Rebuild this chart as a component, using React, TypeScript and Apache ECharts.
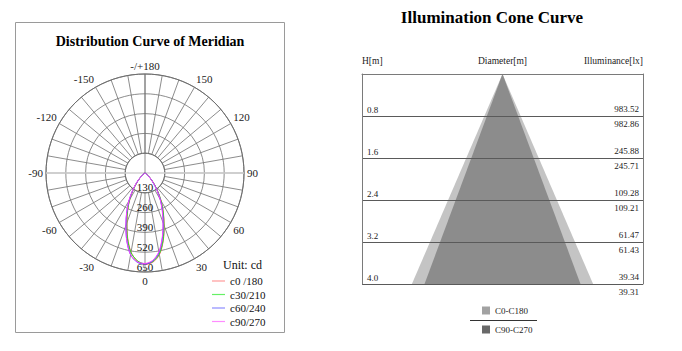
import { useEffect, useRef } from 'react';
import * as echarts from 'echarts';

const FONT = "'Liberation Serif', 'Times New Roman', serif";

// ---------- Left: polar distribution curve ----------
const gammaAngles = [0, 5, 10, 15, 20, 25, 30, 35, 40, 45, 50, 55, 60, 65, 70, 75, 80, 85, 90];
const curveNames = ['c0 /180', 'c30/210', 'c60/240', 'c90/270'];
const curveColors = ['#ff5c5c', '#22e622', '#4646ff', '#ff40ff'];
const legendColors = ['#ff9a9a', '#66f066', '#8c8cff', '#ff8cff'];
// intensity (cd) on the positive side (right) and negative side (left)
const c0Right = [600, 588, 545, 462, 368, 285, 212, 145, 92, 52, 25, 10, 4, 1, 0, 0, 0, 0, 0];
const c0Left = [600, 580, 528, 440, 345, 268, 198, 135, 85, 48, 22, 9, 3, 1, 0, 0, 0, 0, 0];
const c30Right = [596, 584, 540, 458, 364, 282, 210, 144, 90, 51, 24, 10, 4, 1, 0, 0, 0, 0, 0];
const c30Left = [596, 578, 530, 445, 350, 272, 202, 138, 86, 49, 23, 9, 3, 1, 0, 0, 0, 0, 0];
const c60Right = [598, 580, 530, 442, 350, 270, 200, 137, 86, 49, 23, 9, 3, 1, 0, 0, 0, 0, 0];
const c60Left = [598, 588, 545, 460, 366, 283, 210, 143, 90, 51, 24, 10, 4, 1, 0, 0, 0, 0, 0];
const c90Right = [594, 576, 525, 438, 346, 266, 198, 135, 84, 47, 22, 9, 3, 1, 0, 0, 0, 0, 0];
const c90Left = [594, 585, 545, 462, 368, 285, 212, 145, 92, 52, 25, 10, 4, 1, 0, 0, 0, 0, 0];
const curveRight = [c0Right, c30Right, c60Right, c90Right];
const curveLeft = [c0Left, c30Left, c60Left, c90Left];

// ---------- Right: illumination cone ----------
const heights = [0.8, 1.6, 2.4, 3.2, 4.0];
const illumUpper = ['983.52', '245.88', '109.28', '61.47', '39.34'];
const illumLower = ['982.86', '245.71', '109.21', '61.43', '39.31'];
const coneNames = ['C0-C180', 'C90-C270'];
const coneDiameters = [2.58, 2.22]; // diameter at the deepest height
const coneColors = ['#c4c4c4', '#8c8c8c'];
const coneLegendColors = ['#a2a2a2', '#696969'];

function buildCurve(i: number) {
  const left = curveLeft[i];
  const right = curveRight[i];
  const pts: number[][] = [];
  for (let k = gammaAngles.length - 1; k >= 1; k--) pts.push([left[k], 360 - gammaAngles[k]]);
  pts.push([right[0], 0]);
  for (let k = 1; k < gammaAngles.length; k++) pts.push([right[k], gammaAngles[k]]);
  return pts;
}

export default function App() {
  const ref = useRef<HTMLDivElement>(null);
  useEffect(() => {
    if (!ref.current) return;
    const chart = echarts.init(ref.current, null, { renderer: 'svg' });
    const gridColor = '#6e6e6e';
    const maxH = heights[heights.length - 1];
    const option: any = {
      animation: false,
      backgroundColor: '#ffffff',
      textStyle: { fontFamily: FONT },
      title: [
        {
          text: 'Distribution Curve of Meridian', left: 150, top: 34, textAlign: 'center', padding: 0,
          textStyle: { fontFamily: FONT, fontSize: 14, fontWeight: 'bold', color: '#000' },
        },
        {
          text: 'Illumination Cone Curve', left: 492, top: 9, textAlign: 'center', padding: 0,
          textStyle: { fontFamily: FONT, fontSize: 17, fontWeight: 'bold', color: '#000' },
        },
        {
          text: 'Unit: cd', left: 223, top: 259, padding: 0,
          textStyle: { fontFamily: FONT, fontSize: 12, fontWeight: 'normal', color: '#111' },
        },
      ],
      legend: [
        {
          data: curveNames.map((n, i) => ({ name: n, itemStyle: { color: legendColors[i] } })),
          orient: 'vertical', left: 212, top: 275, itemWidth: 13, itemHeight: 1.2, itemGap: 1.5,
          icon: 'rect',
          textStyle: { fontFamily: FONT, fontSize: 11, color: '#111', lineHeight: 12 }, padding: 0,
        },
        {
          data: coneNames.map((n, i) => ({ name: n, itemStyle: { color: coneLegendColors[i] } })),
          orient: 'vertical', left: 482, top: 306, itemWidth: 8, itemHeight: 8, itemGap: 10, icon: 'rect',
          textStyle: { fontFamily: FONT, fontSize: 9, color: '#222' }, padding: 0,
        },
      ],
      polar: [
        { center: [145, 173], radius: [19.8, 99] },
        { center: [145, 173], radius: [0, 99] },
      ],
      angleAxis: [
        {
          polarIndex: 0, type: 'value', min: 0, max: 360, interval: 10, startAngle: 270, clockwise: false,
          axisLine: { show: true, lineStyle: { color: gridColor, width: 1 } },
          axisTick: { show: false },
          axisLabel: {
            margin: 3, fontFamily: FONT, fontSize: 11, color: '#222',
            formatter: (v: number) => {
              if (v % 30 !== 0 || v === 360) return '';
              if (v === 180) return '-/+180';
              return v > 180 ? String(v - 360) : String(v);
            },
          },
          splitLine: { show: true, lineStyle: { color: gridColor, width: 0.8 } },
        },
        { polarIndex: 1, type: 'value', min: 0, max: 360, startAngle: 270, clockwise: false, show: false },
      ],
      radiusAxis: [
        {
          polarIndex: 0, type: 'value', min: 130, max: 650, interval: 130,
          axisLine: { show: false }, axisTick: { show: false },
          axisLabel: { margin: 0, align: 'center', verticalAlign: 'bottom', fontFamily: FONT, fontSize: 11, color: '#111' },
          splitLine: { show: true, lineStyle: { color: gridColor, width: 0.8 } },
        },
        { polarIndex: 1, type: 'value', min: 0, max: 650, show: false },
      ],
      grid: { left: 362, right: 39, top: 74, bottom: 67 },
      xAxis: {
        type: 'value', position: 'top', min: -2, max: 2,
        axisLine: { show: true, onZero: false, lineStyle: { color: '#7a7a7a' } },
        axisTick: { show: false }, axisLabel: { show: false }, splitLine: { show: false },
        name: 'Diameter[m]', nameLocation: 'middle', nameGap: 8,
        nameTextStyle: { fontFamily: FONT, fontSize: 9.5, color: '#222' },
      },
      yAxis: [
        {
          type: 'value', inverse: true, min: 0, max: maxH, interval: 0.8, position: 'left',
          axisLine: { show: true, onZero: false, lineStyle: { color: '#7a7a7a' } },
          axisTick: { show: false },
          axisLabel: {
            inside: true, margin: 5, verticalAlign: 'bottom', padding: [0, 0, 2, 0],
            fontFamily: FONT, fontSize: 9, color: '#222',
            formatter: (v: number) => (v === 0 ? '' : v.toFixed(1)),
          },
          splitLine: { show: true, lineStyle: { color: '#5a5a5a' } },
          name: 'H[m]', nameLocation: 'start', nameGap: 8,
          nameTextStyle: { fontFamily: FONT, fontSize: 9.5, color: '#222', align: 'left' },
        },
        {
          type: 'value', inverse: true, min: 0, max: maxH, interval: 0.8, position: 'right',
          axisLine: { show: true, onZero: false, lineStyle: { color: '#7a7a7a' } },
          axisTick: { show: false },
          axisLabel: {
            inside: true, margin: 4, verticalAlign: 'middle', lineHeight: 15,
            fontFamily: FONT, fontSize: 9, color: '#222',
            formatter: (v: number) => {
              const idx = heights.findIndex((h) => Math.abs(h - v) < 1e-6);
              return idx < 0 ? '' : illumUpper[idx] + '\n' + illumLower[idx];
            },
          },
          splitLine: { show: false },
          name: 'Illuminance[lx]', nameLocation: 'start', nameGap: 8,
          nameTextStyle: { fontFamily: FONT, fontSize: 9.5, color: '#222', align: 'right' },
        },
      ],
      series: [
        {
          type: 'line', coordinateSystem: 'polar', polarIndex: 1, silent: true, symbol: 'none',
          lineStyle: { color: '#d2d2d2', width: 1.6 }, data: [[650, 90], [650, 270]], z: 1,
        },
        {
          type: 'line', coordinateSystem: 'polar', polarIndex: 1, silent: true, symbol: 'none',
          lineStyle: { color: gridColor, width: 0.8 }, data: [[0, 0], [650, 180]], z: 1,
        },
        ...curveNames.map((name, i) => ({
          type: 'line', name, coordinateSystem: 'polar', polarIndex: 1, symbol: 'none', smooth: 0.3,
          itemStyle: { color: curveColors[i] },
          lineStyle: { color: curveColors[i], width: 1 }, data: buildCurve(i), z: 5,
        })),
        ...coneNames.map((name, i) => ({
          type: 'custom', name, coordinateSystem: 'cartesian2d', xAxisIndex: 0, yAxisIndex: 0, z: -1,
          itemStyle: { color: coneColors[i] },
          data: [[coneDiameters[i], maxH]],
          renderItem: (_p: any, api: any) => {
            const d = api.value(0);
            const h = api.value(1);
            const apex = api.coord([0, 0]);
            const l = api.coord([-d / 2, h]);
            const r = api.coord([d / 2, h]);
            return { type: 'polygon', shape: { points: [apex, l, r] }, style: { fill: coneColors[i] } };
          },
        })),
      ],
      graphic: [
        {
          type: 'rect', silent: true, z: -10,
          shape: { x: 15.5, y: 22.5, width: 269, height: 310 },
          style: { fill: 'none', stroke: '#9a9a9a', lineWidth: 1 },
        },
        {
          type: 'line', silent: true,
          shape: { x1: 470, y1: 320.5, x2: 537, y2: 320.5 },
          style: { stroke: '#333', lineWidth: 1 },
        },
      ],
    };
    chart.setOption(option);
    return () => chart.dispose();
  }, []);
  return (
    <div
      ref={ref}
      style={{ position: 'absolute', left: 0, top: 0, width: 682, height: 351, background: '#fff' }}
    />
  );
}
